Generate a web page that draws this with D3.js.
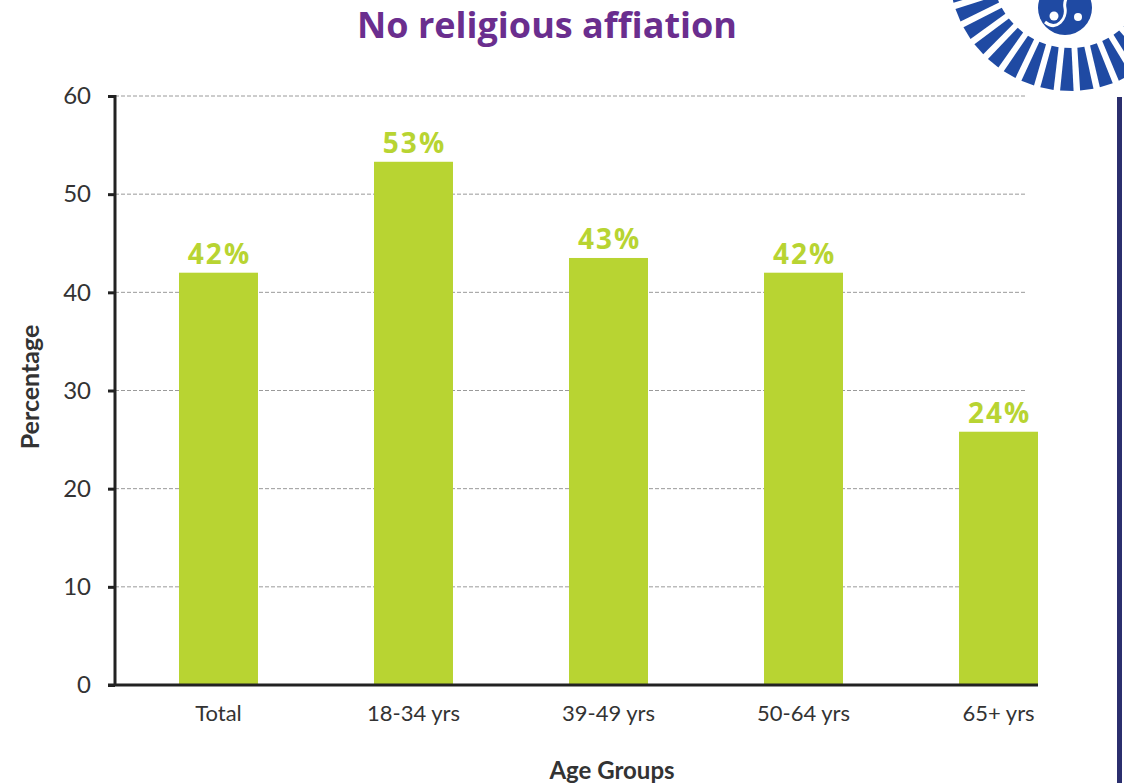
<!DOCTYPE html>
<html>
<head>
  <title>No religious affiation</title>
  <style>
    body {
      margin: 0;
      padding: 0;
      background-color: #fff;
    }
    svg text {
      font-family: Lato, "Open Sans", Arial, sans-serif;
    }
  </style>
</head>
<body>
  <div id="chart"></div>

  <script src="https://d3js.org/d3.v7.min.js"></script>
  <script>
    var categories = ["Total", "18-34 yrs", "39-49 yrs", "50-64 yrs", "65+ yrs"];
    var values = [42, 53.3, 43.5, 42, 25.8];
    var valueLabels = ["42%", "53%", "43%", "42%", "24%"];
    var yTicks = [0, 10, 20, 30, 40, 50, 60];

    var width = 1124, height = 783;
    var green = "#b8d432";

    var svg = d3.select("#chart")
      .append("svg")
      .attr("width", width)
      .attr("height", height);

    var xScale = d3.scaleBand()
      .domain(categories)
      .range([179, 1038])
      .paddingInner(0.595)
      .paddingOuter(0);

    var yScale = d3.scaleLinear()
      .domain([0, 60])
      .range([685, 96]);

    // gridlines
    svg.append("g")
      .selectAll("line")
      .data(yTicks.filter(function (d) { return d > 0; }))
      .enter()
      .append("line")
      .attr("x1", 115)
      .attr("x2", 1027)
      .attr("y1", function (d) { return yScale(d); })
      .attr("y2", function (d) { return yScale(d); })
      .attr("stroke", "#9a9a9a")
      .attr("stroke-width", 1)
      .attr("stroke-dasharray", "4,2");

    // bars
    svg.append("g")
      .selectAll("rect")
      .data(values)
      .enter()
      .append("rect")
      .attr("x", function (d, i) { return xScale(categories[i]); })
      .attr("y", function (d) { return yScale(d); })
      .attr("width", xScale.bandwidth())
      .attr("height", function (d) { return yScale(0) - yScale(d); })
      .attr("fill", green);

    // value labels
    svg.append("g")
      .selectAll("text")
      .data(values)
      .enter()
      .append("text")
      .text(function (d, i) { return valueLabels[i]; })
      .attr("x", function (d, i) { return xScale(categories[i]) + xScale.bandwidth() / 2 + 1; })
      .attr("y", function (d) { return yScale(d) - 9; })
      .attr("text-anchor", "middle")
      .style("font-family", "'Open Sans', Lato, sans-serif")
      .style("font-weight", "bold")
      .style("font-size", "28px")
      .style("letter-spacing", "2px")
      .attr("fill", green);

    // y axis
    var yAxis = svg.append("g")
      .attr("transform", "translate(115,0)")
      .call(d3.axisLeft(yScale).tickValues(yTicks).tickSize(7).tickPadding(17));
    yAxis.select(".domain").remove();
    yAxis.selectAll(".tick line").attr("stroke", "#222").attr("stroke-width", 3);
    yAxis.selectAll(".tick text")
      .style("font-size", "24px")
      .attr("fill", "#333");

    svg.append("line")
      .attr("x1", 115).attr("x2", 115)
      .attr("y1", yScale(60) - 1).attr("y2", yScale(0) + 1)
      .attr("stroke", "#222").attr("stroke-width", 3);

    // x axis
    var xAxis = svg.append("g")
      .attr("transform", "translate(0," + yScale(0) + ")")
      .call(d3.axisBottom(xScale).tickSize(0).tickPadding(20));
    xAxis.select(".domain").remove();
    xAxis.selectAll(".tick text")
      .style("font-size", "22px")
      .attr("fill", "#333");

    svg.append("line")
      .attr("x1", 108).attr("x2", 1038)
      .attr("y1", yScale(0)).attr("y2", yScale(0))
      .attr("stroke", "#222").attr("stroke-width", 3);

    // axis titles
    svg.append("text")
      .text("Age Groups")
      .attr("x", 612)
      .attr("y", 779)
      .attr("text-anchor", "middle")
      .style("font-size", "24px")
      .style("font-weight", "bold")
      .attr("fill", "#333");

    svg.append("text")
      .text("Percentage")
      .attr("transform", "translate(39,387) rotate(-90)")
      .attr("text-anchor", "middle")
      .style("font-size", "25px")
      .style("font-weight", "bold")
      .attr("fill", "#333");

    // title
    svg.append("text")
      .text("No religious affiation")
      .attr("x", 547)
      .attr("y", 38)
      .attr("text-anchor", "middle")
      .style("font-family", "'Open Sans', Lato, sans-serif")
      .style("font-size", "36px")
      .style("font-weight", "bold")
      .attr("fill", "#6a2e8e");

    // right border line
    svg.append("rect")
      .attr("x", 1117).attr("y", 97)
      .attr("width", 5).attr("height", height - 97)
      .attr("fill", "#2b2f6e");

    // logo (sunburst with yin-yang)
    var logo = svg.append("g");
    var blue = "#1f4aa3";
    var cx = 1070, cy = -30;
    var angles = d3.range(6, 180, 9.5);
    logo.selectAll("path.ray")
      .data(angles)
      .enter()
      .append("path")
      .attr("class", "ray")
      .attr("d", function (a) {
        var r0 = 78, r1 = 121;
        var t = a * Math.PI / 180;
        var w0 = 2.6 * Math.PI / 180, w1 = 3.2 * Math.PI / 180;
        var p = [
          [cx + r0 * Math.cos(t - w0), cy + r0 * Math.sin(t - w0)],
          [cx + r1 * Math.cos(t - w1), cy + r1 * Math.sin(t - w1)],
          [cx + r1 * Math.cos(t + w1), cy + r1 * Math.sin(t + w1)],
          [cx + r0 * Math.cos(t + w0), cy + r0 * Math.sin(t + w0)]
        ];
        return "M" + p.join("L") + "Z";
      })
      .attr("fill", blue);

    var yx = 1065, yy = 8, yr = 27;
    logo.append("circle").attr("cx", yx).attr("cy", yy).attr("r", yr).attr("fill", blue);
    logo.append("path")
      .attr("d", "M" + (yx - 20) + "," + (yy + 14) +
        " C" + (yx - 8) + "," + (yy + 24) + " " + (yx + 2) + "," + (yy + 10) + " " + yx + "," + yy +
        " C" + (yx - 2) + "," + (yy - 10) + " " + (yx + 8) + "," + (yy - 22) + " " + (yx + 20) + "," + (yy - 16))
      .attr("fill", "none")
      .attr("stroke", "#fff")
      .attr("stroke-width", 3);
    logo.append("circle").attr("cx", yx - 11).attr("cy", yy + 8).attr("r", 4.5).attr("fill", "#fff");
    logo.append("circle").attr("cx", yx + 13).attr("cy", yy + 9).attr("r", 4).attr("fill", "#fff");
    logo.append("rect").attr("x", 1022).attr("y", 0).attr("width", 8).attr("height", 16).attr("fill", "#fff");
  </script>
</body>
</html>
